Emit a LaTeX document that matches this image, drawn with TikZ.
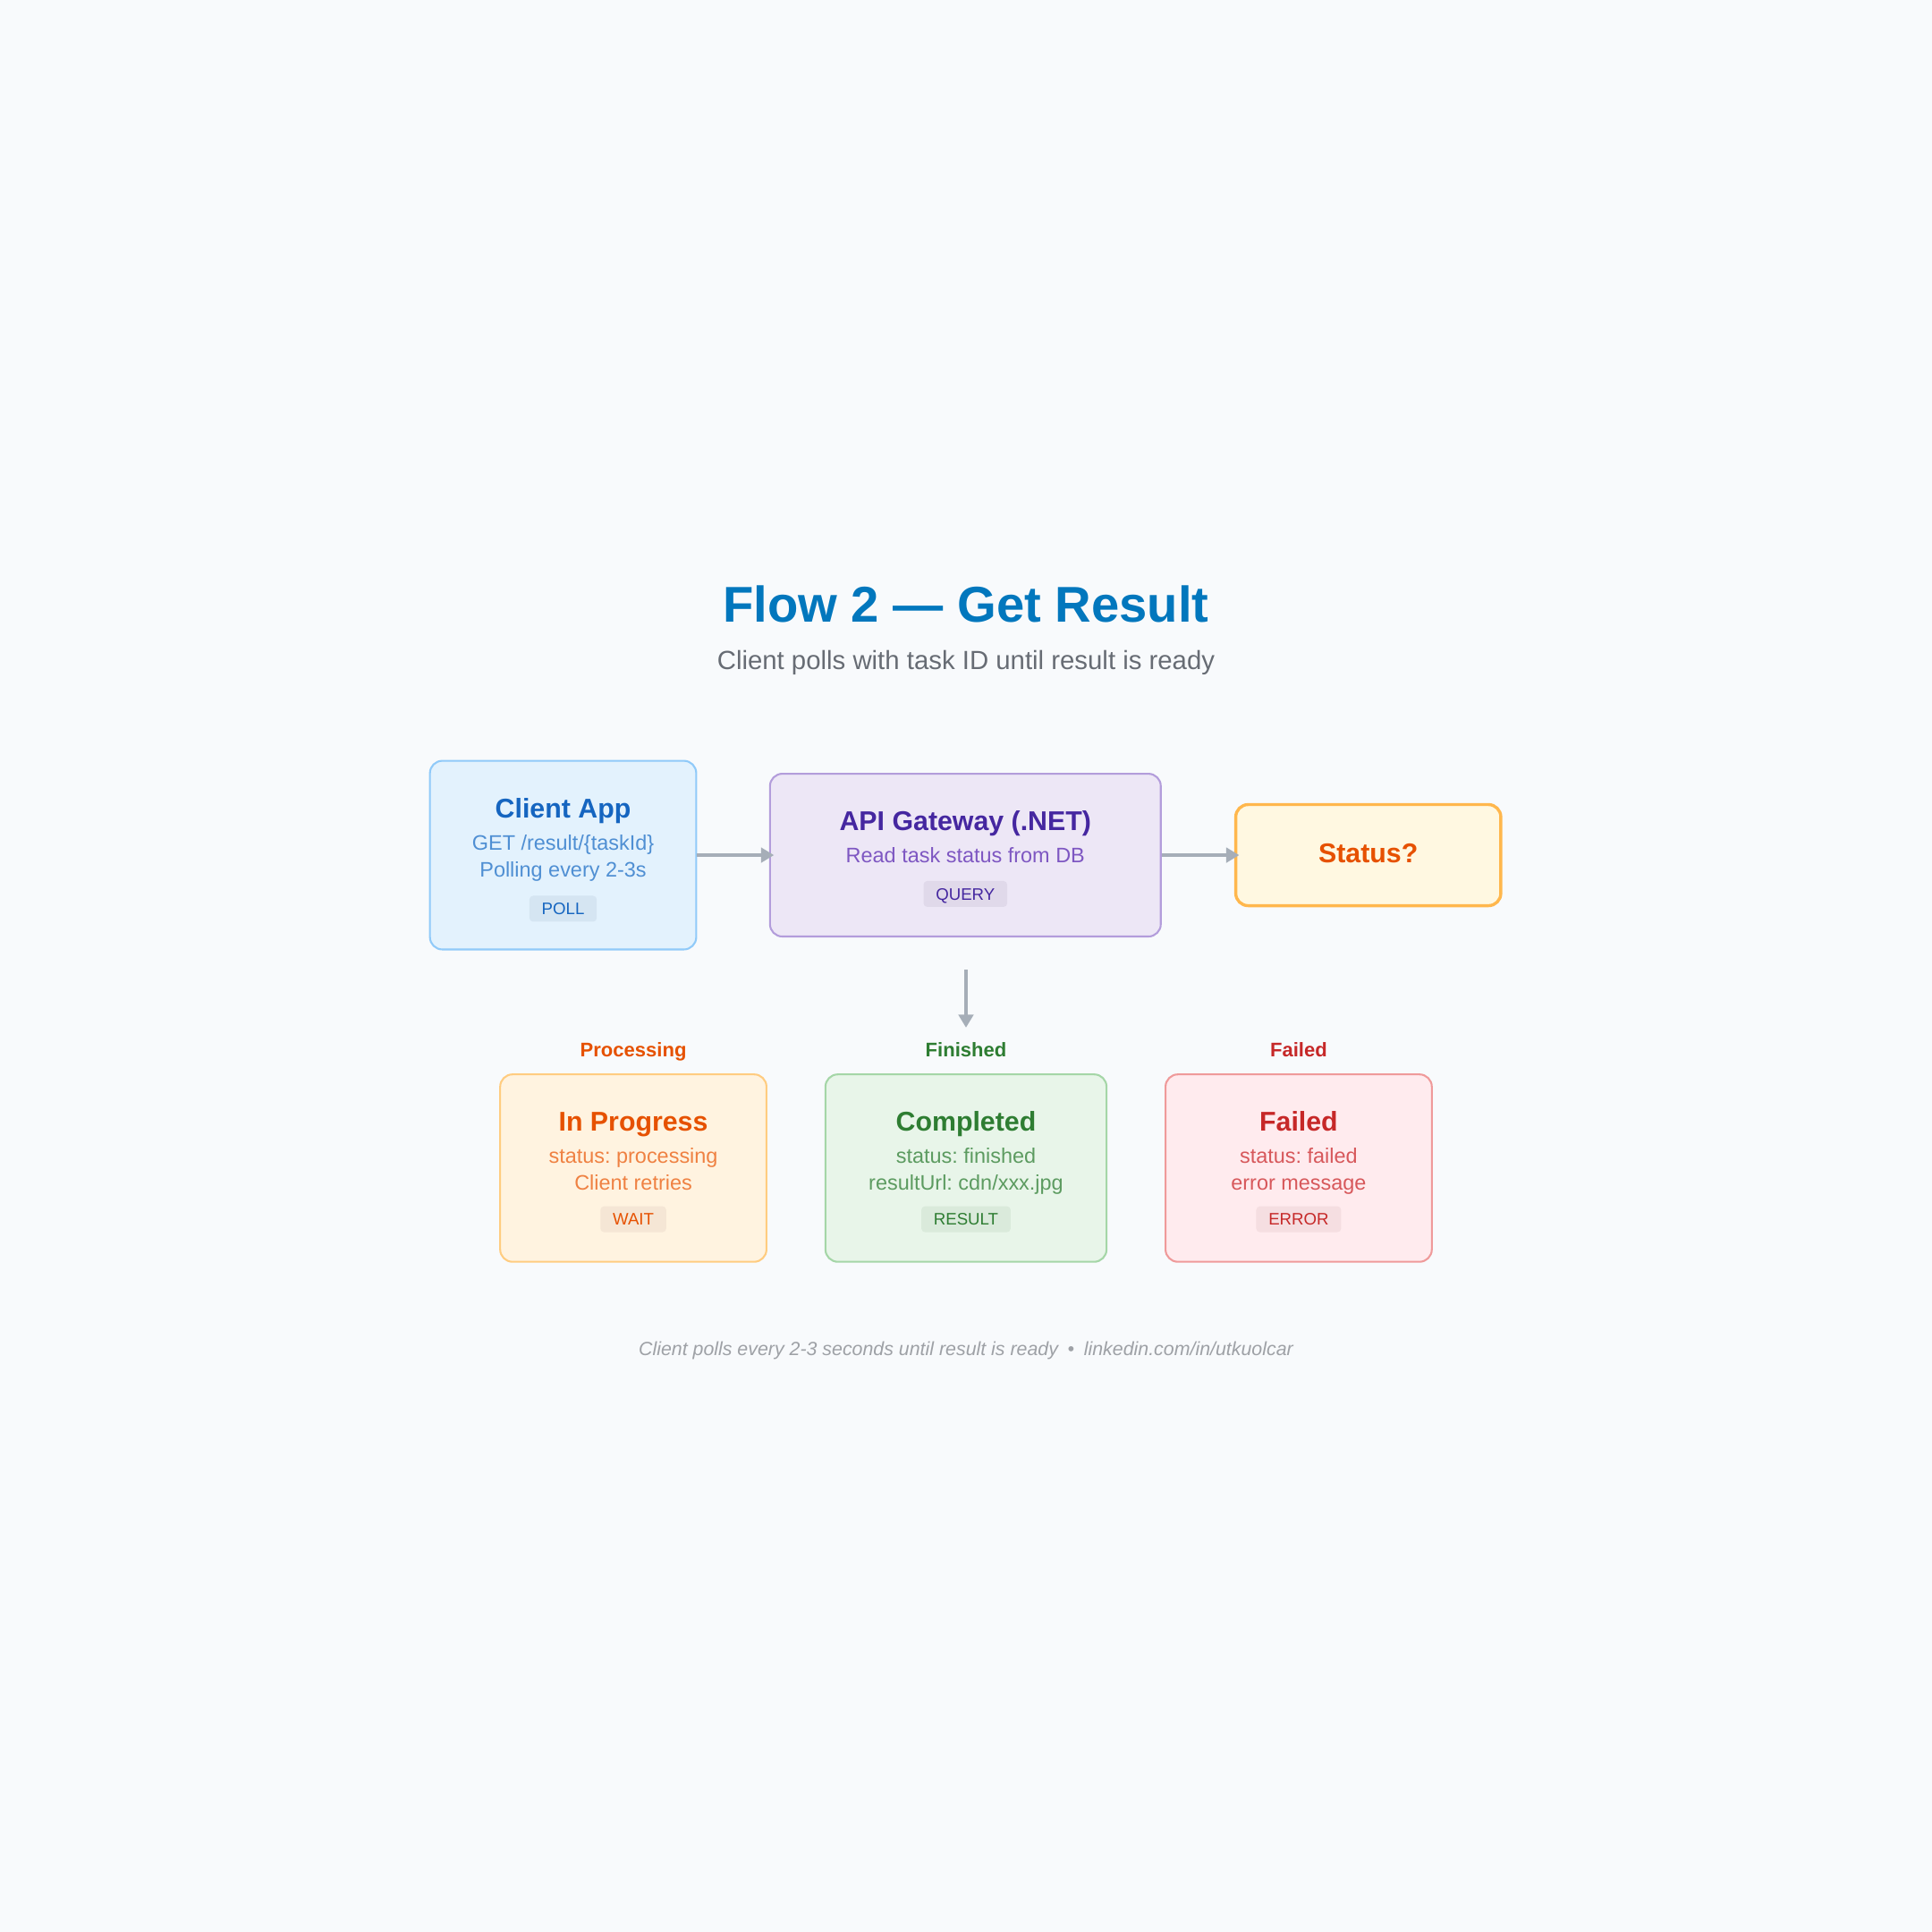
\documentclass[tikz,border=0pt]{standalone}
\usepackage{fontspec}
\setmainfont{Liberation Sans}
\usetikzlibrary{arrows.meta}
\definecolor{bg}{HTML}{F8FAFC}
\definecolor{titleblue}{HTML}{0277BD}
\definecolor{subgray}{HTML}{676C74}
\definecolor{footgray}{HTML}{9EA1A6}
\definecolor{arrowgray}{HTML}{A6AEB8}
\definecolor{clientfill}{HTML}{E3F2FD}
\definecolor{clientline}{HTML}{90CAF9}
\definecolor{clientdark}{HTML}{1565C0}
\definecolor{clienttext}{HTML}{4F8FD3}
\definecolor{clienttag}{HTML}{D5E5F2}
\definecolor{apifill}{HTML}{EDE7F6}
\definecolor{apiline}{HTML}{B39DDB}
\definecolor{apidark}{HTML}{4527A0}
\definecolor{apitext}{HTML}{7E57C2}
\definecolor{apitag}{HTML}{E0D9EA}
\definecolor{statusfill}{HTML}{FFF8E1}
\definecolor{statusline}{HTML}{FFB74D}
\definecolor{statusdark}{HTML}{E65100}
\definecolor{progfill}{HTML}{FFF3E0}
\definecolor{progline}{HTML}{FFCC80}
\definecolor{progdark}{HTML}{E65100}
\definecolor{progtext}{HTML}{EF8142}
\definecolor{progtag}{HTML}{F5E6D5}
\definecolor{donefill}{HTML}{E8F5E9}
\definecolor{doneline}{HTML}{A5D6A7}
\definecolor{donedark}{HTML}{2E7D32}
\definecolor{donetext}{HTML}{5C9B60}
\definecolor{donetag}{HTML}{DAEADB}
\definecolor{failfill}{HTML}{FFEBEE}
\definecolor{failline}{HTML}{EF9A9A}
\definecolor{faildark}{HTML}{C62828}
\definecolor{failtext}{HTML}{D7585B}
\definecolor{failtag}{HTML}{F5DEE1}
\newcommand{\fsz}[1]{\fontsize{#1pt}{#1pt}\selectfont}
\frenchspacing

\begin{document}
\begin{tikzpicture}[x=0.01cm, y=-0.01cm,
    box/.style={rounded corners=2.85pt, line width=0.43pt, draw=#1line, fill=#1fill},
    head/.style={anchor=base, text=#1dark, font=\bfseries\fsz{6.26}},
    sub/.style={anchor=base, text=#1text, font=\fsz{4.84}},
    tag/.style={fill=#1tag, text=#1dark, font=\fsz{3.85}, rounded corners=0.85pt, minimum height=0.21cm, text height=0.097cm, text depth=0pt, inner xsep=0.1cm, inner ysep=0pt},
    lbl/.style={anchor=base, text=#1dark, font=\bfseries\fsz{4.55}},
    link/.style={draw=arrowgray, line width=0.7pt, shorten >=-0.04cm, -{Triangle[length=3pt, width=3.4pt]}}]
    \fill[bg] (0,0) rectangle (1568,1568);
    \node[anchor=base, text=titleblue, font=\bfseries\fsz{11.6}] (title) at (784,505) {Flow 2 — Get Result};
    \node[anchor=base, text=subgray, font=\fsz{6.06}] (subtitle) at (784,543) {Client polls with task ID until result is ready};

    \node[box=client, minimum width=2.16cm, minimum height=1.53cm] (client) at (457,694) {};
    \node[head=client] (clienthead) at (457,664) {Client App};
    \node[sub=client] (clientl1) at (457,690) {GET /result/\{taskId\}};
    \node[sub=client] (clientl2) at (457,712) {Polling every 2-3s};
    \node[tag=client] (clienttag) at (457,737.5) {POLL};

    \node[box=api, minimum width=3.17cm, minimum height=1.32cm] (api) at (783.5,694) {};
    \node[head=api] (apihead) at (783.5,674) {API Gateway (.NET)};
    \node[sub=api] (apil1) at (783.5,700) {Read task status from DB};
    \node[tag=api] (apitag) at (783.5,725.5) {QUERY};

    \node[box=status, line width=0.7pt, minimum width=2.15cm, minimum height=0.82cm] (status) at (1110.5,694) {};
    \node[head=status] (statushead) at (1110.5,700) {Status?};

    \draw[link] (client.east) -- (api.west);
    \draw[link] (api.east) -- (status.west);
    \coordinate (splittop) at (784,787);
    \coordinate (splitend) at (784,830);
    \draw[link] (splittop) -- (splitend);

    \node[lbl=prog] (proglbl) at (514,858) {Processing};
    \node[lbl=done] (donelbl) at (784,858) {Finished};
    \node[lbl=fail] (faillbl) at (1054,858) {Failed};

    \node[box=prog, minimum width=2.16cm, minimum height=1.52cm] (prog) at (514,948) {};
    \node[head=prog] (proghead) at (514,918) {In Progress};
    \node[sub=prog] (progl1) at (514,944) {status: processing};
    \node[sub=prog] (progl2) at (514,966) {Client retries};
    \node[tag=prog] (progtag) at (514,989.5) {WAIT};

    \node[box=done, minimum width=2.28cm, minimum height=1.52cm] (done) at (784,948) {};
    \node[head=done] (donehead) at (784,918) {Completed};
    \node[sub=done] (donel1) at (784,944) {status: finished};
    \node[sub=done] (donel2) at (784,966) {resultUrl: cdn/xxx.jpg};
    \node[tag=done] (donetag) at (784,989.5) {RESULT};

    \node[box=fail, minimum width=2.16cm, minimum height=1.52cm] (fail) at (1054,948) {};
    \node[head=fail] (failhead) at (1054,918) {Failed};
    \node[sub=fail] (faill1) at (1054,944) {status: failed};
    \node[sub=fail] (faill2) at (1054,966) {error message};
    \node[tag=fail] (failtag) at (1054,989.5) {ERROR};

    \node[anchor=base, text=footgray, font=\itshape\fsz{4.41}] (footer) at (784,1100) {Client polls every 2-3 seconds until result is ready\enspace•\enspace linkedin.com/in/utkuolcar};
\end{tikzpicture}
\end{document}
